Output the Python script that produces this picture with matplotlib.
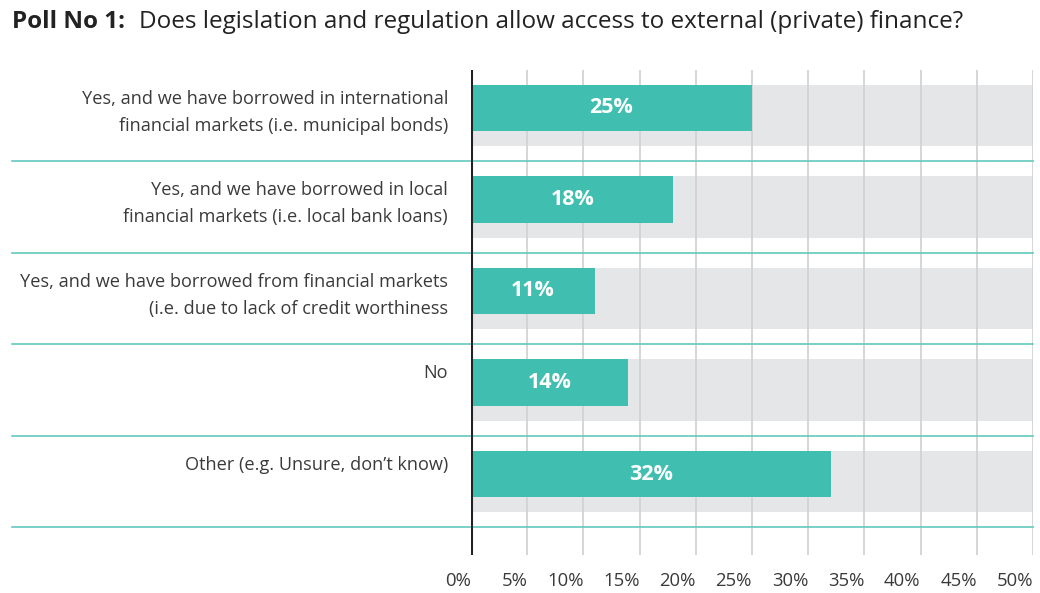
import numpy as np
import matplotlib
matplotlib.use("Agg")
import matplotlib.pyplot as plt
import matplotlib.transforms as mtransforms

plt.rcParams['font.family'] = ['Open Sans', 'DejaVu Sans']

categories = [
    "Yes, and we have borrowed in international\nfinancial markets (i.e. municipal bonds)",
    "Yes, and we have borrowed in local\nfinancial markets (i.e. local bank loans)",
    "Yes, and we have borrowed from financial markets\n(i.e. due to lack of credit worthiness",
    "No",
    "Other (e.g. Unsure, don\u2019t know)",
]
values = [25, 18, 11, 14, 32]
ticks = [0, 5, 10, 15, 20, 25, 30, 35, 40, 45, 50]
tick_labels = [f"{t}%" for t in ticks]

teal = "#40bfb1"
sep_teal = "#62c9bd"
band_grey = "#e5e6e8"
grid_grey = "#d2d3d5"
text_col = "#3a3a3a"

fig = plt.figure(figsize=(10.4, 5.93), dpi=100)
ax = fig.add_axes([471 / 1040, 1 - 555 / 593, 562 / 1040, 485 / 593])
ax.set_xlim(0, 50)
ax.set_ylim(4.885, -0.415)
ax.axis("off")

bar_h = 0.503
band_h = 0.667
y = np.arange(len(values))

# grey background bands
ax.barh(y - bar_h / 2, 50, height=band_h, left=0, align="edge", color=band_grey, zorder=1)
# grid
for t in ticks[1:]:
    ax.axvline(t, color=grid_grey, lw=1.3, zorder=2)
# bars
ax.barh(y - bar_h / 2, values, height=bar_h, align="edge", color=teal, zorder=3)
for yi, v in zip(y, values):
    ax.text(v / 2, yi, f"{v}%", color="white", fontsize=15.5, fontweight="bold",
            ha="center", va="center", zorder=4)

# separators
trans = mtransforms.blended_transform_factory(ax.transAxes, ax.transData)
for yi in y:
    ax.plot([-459 / 562, 1.0], [yi + 0.58, yi + 0.58], color=sep_teal, lw=1.2,
            transform=trans, clip_on=False, zorder=5)

# zero axis line
ax.axvline(0, color="#222222", lw=2.2, zorder=6)

# category labels
for yi, lab in zip(y, categories):
    ax.text(-23 / 562, yi - bar_h / 2 + 0.05, lab, transform=trans, ha="right", va="top",
            fontsize=13.1, color=text_col, linespacing=1.66)

# x tick labels, right aligned to the grid lines
for t, lab in zip(ticks, tick_labels):
    ax.text(t, 5.17, lab, ha="right", va="center", fontsize=13.3, color=text_col,
            clip_on=False)

fig.text(12 / 1040, 1 - 22 / 593, "Poll No 1:", fontsize=17.5, fontweight="bold",
         color="#222222", ha="left", va="center")
fig.text(139 / 1040, 1 - 22 / 593,
         "Does legislation and regulation allow access to external (private) finance?",
         fontsize=17.5, color="#222222", ha="left", va="center")

fig.savefig("out.png", dpi=100)
